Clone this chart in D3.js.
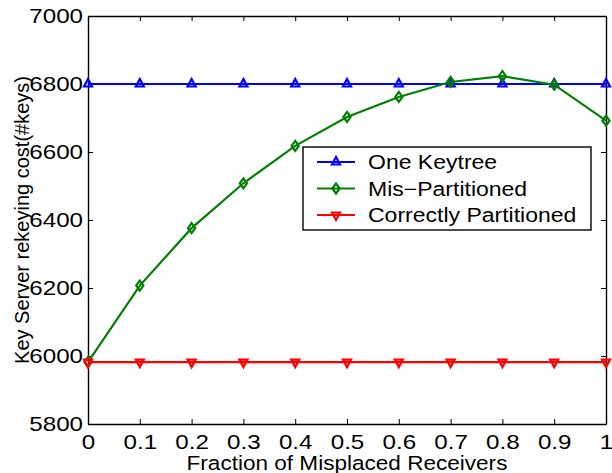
<!DOCTYPE html>
<html>
<head>
<meta charset="utf-8">
<script src="https://cdn.jsdelivr.net/npm/d3@7"></script>
<style>
  body { margin: 0; background: #fff; }
  text { font-family: "Liberation Sans", Arial, sans-serif; fill: #000; }
</style>
</head>
<body>
<div id="chart"></div>
<script>
// data
const fractions = [0, 0.1, 0.2, 0.3, 0.4, 0.5, 0.6, 0.7, 0.8, 0.9, 1];
const oneKeytree = [6800, 6800, 6800, 6800, 6800, 6800, 6800, 6800, 6800, 6800, 6800];
const misPartitioned = [5982, 6207, 6376, 6508, 6618, 6703, 6762, 6806, 6823, 6798, 6692];
const correctlyPartitioned = [5982, 5982, 5982, 5982, 5982, 5982, 5982, 5982, 5982, 5982, 5982];
const xTicks = [0, 0.1, 0.2, 0.3, 0.4, 0.5, 0.6, 0.7, 0.8, 0.9, 1];
const yTicks = [5800, 6000, 6200, 6400, 6600, 6800, 7000];
const seriesNames = ["One Keytree", "Mis\u2212Partitioned", "Correctly Partitioned"];

// layout
const margin = { top: 16, right: 6, bottom: 49, left: 88 };
const W = 612, H = 473;
const width = W - margin.left - margin.right;
const height = H - margin.top - margin.bottom;

const svg = d3.select('#chart').append('svg')
  .attr('width', W).attr('height', H);
const g = svg.append('g')
  .attr('transform', 'translate(' + margin.left + ',' + margin.top + ')');

const x = d3.scaleLinear().domain([0, 1]).range([0, width]);
const y = d3.scaleLinear().domain([5800, 7000]).range([height, 0]);

// axes, ticks pointing inward, mirrored on top/right
const fmtX = d => d === 0 ? '0' : d === 1 ? '1' : d3.format('.1f')(d);
const xAxisBottom = g.append('g').attr('transform', 'translate(0,' + height + ')')
  .call(d3.axisBottom(x).tickValues(xTicks).tickFormat(fmtX).tickSizeInner(-5).tickSizeOuter(0).tickPadding(10));
const xAxisTop = g.append('g')
  .call(d3.axisTop(x).tickValues(xTicks).tickFormat('').tickSizeInner(-5).tickSizeOuter(0));
const yAxisLeft = g.append('g')
  .call(d3.axisLeft(y).tickValues(yTicks).tickFormat(d3.format('d')).tickSizeInner(-5).tickSizeOuter(0).tickPadding(5));
const yAxisRight = g.append('g').attr('transform', 'translate(' + width + ',0)')
  .call(d3.axisRight(y).tickValues(yTicks).tickFormat('').tickSizeInner(-5).tickSizeOuter(0));

[xAxisBottom, xAxisTop, yAxisLeft, yAxisRight].forEach(a => {
  a.selectAll('text').style('font-size', '21px').attr('fill', '#000').classed('wide', true);
  a.selectAll('line').attr('stroke', '#000');
  a.select('.domain').attr('stroke', '#000').attr('stroke-width', 1.4);
});

// axis labels
svg.append('text')
  .attr('x', margin.left + width / 2).attr('y', 470)
  .attr('text-anchor', 'middle').style('font-size', '20.5px')
  .attr('class', 'xlabel')
  .text('Fraction of Misplaced Receivers');
svg.append('text')
  .attr('transform', 'translate(29,' + (margin.top + height / 2) + ') rotate(-90)')
  .attr('text-anchor', 'middle').style('font-size', '20px')
  .text('Key Server rekeying cost(#keys)');

// series
const series = [
  { name: seriesNames[0], values: oneKeytree, color: '#0000ff', marker: 'up' },
  { name: seriesNames[1], values: misPartitioned, color: '#008000', marker: 'diamond' },
  { name: seriesNames[2], values: correctlyPartitioned, color: '#ff0000', marker: 'down' }
];

const line = d3.line().x((d, i) => x(fractions[i])).y(d => y(d));

function markerPath(type) {
  if (type === 'up') return 'M0,-5L4,2.5L-4,2.5Z';
  if (type === 'down') return 'M0,5L4,-2.5L-4,-2.5Z';
  return 'M0,-5L3.6,0L0,5L-3.6,0Z';
}

series.forEach(s => {
  g.append('path')
    .datum(s.values)
    .attr('fill', 'none')
    .attr('stroke', s.color)
    .attr('stroke-width', 2.2)
    .attr('d', line);
  g.selectAll(null)
    .data(s.values)
    .join('path')
    .attr('transform', (d, i) => 'translate(' + x(fractions[i]) + ',' + y(d) + ')')
    .attr('d', markerPath(s.marker))
    .attr('fill', 'none')
    .attr('stroke', s.color)
    .attr('stroke-width', 2.2);
});

// legend
const lg = svg.append('g').attr('transform', 'translate(303,147)');
lg.append('rect')
  .attr('width', 288).attr('height', 83)
  .attr('fill', '#fff').attr('stroke', '#000').attr('stroke-width', 1.4);
series.forEach((s, i) => {
  const yy = 15 + i * 26.5;
  lg.append('line')
    .attr('x1', 14).attr('x2', 52).attr('y1', yy).attr('y2', yy)
    .attr('stroke', s.color).attr('stroke-width', 2.2);
  lg.append('path')
    .attr('transform', 'translate(33,' + yy + ')')
    .attr('d', markerPath(s.marker))
    .attr('fill', 'none').attr('stroke', s.color).attr('stroke-width', 2.2);
  lg.append('text')
    .attr('x', 65).attr('y', yy + 7)
    .style('font-size', '20px')
    .attr('class', 'wide')
    .text(s.name);
});

// the original's lettering is a bit wider than Liberation Sans, stretch it
function stretch(sel, k) {
  sel.each(function() {
    if (!this.textContent) return;
    const w = this.getComputedTextLength();
    d3.select(this).attr('textLength', w * k).attr('lengthAdjust', 'spacingAndGlyphs');
  });
}
stretch(svg.selectAll('text.wide'), 1.15);
stretch(svg.selectAll('text.xlabel'), 1.1);
</script>
</body>
</html>
